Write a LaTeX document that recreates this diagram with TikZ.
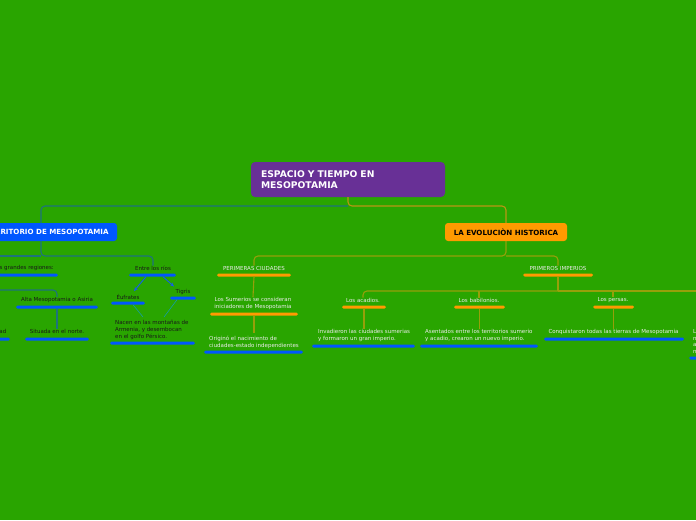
\documentclass[tikz,border=0pt]{standalone}
\usepackage{fontspec}
\setmainfont{DejaVu Sans}
\usetikzlibrary{arrows.meta}
\definecolor{bg}{RGB}{41,165,0}
\definecolor{rootc}{RGB}{104,48,150}
\definecolor{bluen}{RGB}{0,87,255}
\definecolor{orangen}{RGB}{255,154,0}
\definecolor{lineLc}{RGB}{30,115,125}
\definecolor{lineRc}{RGB}{150,160,10}
\definecolor{lineTc}{RGB}{185,150,20}
\definecolor{darktxt}{RGB}{25,25,25}
\definecolor{lighttxt}{RGB}{235,235,235}
\definecolor{arrowc}{RGB}{20,95,235}
\tikzset{
  rootbox/.style={fill=rootc, rounded corners=4pt, minimum width=194pt, minimum height=35pt,
    text width=174pt, align=left, inner sep=0pt, text=white, font=\fontsize{9.2}{11}\selectfont\bfseries},
  mainbox/.style={rounded corners=3pt, minimum height=18pt, inner sep=0pt,
    font=\fontsize{7.1}{8}\selectfont\bfseries},
  ubarB/.style={fill=bluen, rounded corners=1.5pt, minimum height=3pt, inner sep=0pt},
  ubarO/.style={fill=orangen, rounded corners=1.5pt, minimum height=3pt, inner sep=0pt},
  dtxt/.style={text=darktxt, inner sep=0pt, font=\fontsize{5.5}{6.8}\selectfont},
  ltxt/.style={text=lighttxt, inner sep=0pt, font=\fontsize{5.5}{6.8}\selectfont},
  lineL/.style={draw=lineLc, line width=1.1pt, rounded corners=4pt},
  lineR/.style={draw=lineRc, line width=1.1pt, rounded corners=4pt},
  lineT/.style={draw=lineTc, line width=1.1pt, rounded corners=4pt},
  thinL/.style={draw=lineLc!70!cyan, line width=0.6pt},
  arr/.style={draw=arrowc, line width=0.9pt, -{Stealth[length=4pt,width=3.5pt]}}
}
\begin{document}
\begin{tikzpicture}[x=1pt,y=-1pt]
\fill[bg] (0,0) rectangle (696,520);
\useasboundingbox (0,0) rectangle (696,520);

% root and main nodes
\node[rootbox] (root) at (348,179.5) {ESPACIO Y TIEMPO EN\\MESOPOTAMIA};
\node[mainbox, fill=bluen, text=white, minimum width=140pt] (terr) at (47,232) {TERRITORIO DE MESOPOTAMIA};
\node[mainbox, fill=orangen, text=black, minimum width=122pt] (evo) at (506,232) {LA EVOLUCIÒN HISTORICA};
\coordinate (terrTop) at (41,223);
\coordinate (terrBot) at (41,241);

\coordinate (j0) at (348,206);
\draw[lineL] (j0) -| (terrTop);
\draw[lineT] (root.south) -- (j0) -| (evo.north);

% ---------- left branch ----------
\node[dtxt, anchor=east] (reg) at (54,268) {Dos grandes regiones:};
\node[ubarB, minimum width=70pt] (regU) at (23,275) {};
\node[dtxt] (rios) at (153,268) {Entre los ríos};
\node[ubarB, minimum width=47pt] (riosU) at (152.5,275) {};
\coordinate (j1) at (41,256);
\draw[lineL] (terrBot) -- (j1) -| (rios.north);
\draw[lineL] (j1) -- (-20,256);

\node[dtxt] (alta) at (57,300) {Alta Mesopotamia o Asiria};
\node[ubarB, minimum width=82pt] (altaU) at (57,307) {};
\coordinate (j2) at (-20,290);
\draw[lineL] (j2) -| (alta.north);
\node[dtxt] (norte) at (57,331) {Situada en el norte.};
\node[ubarB, minimum width=64pt] (norteU) at (57,339) {};
\draw[lineL] (altaU.south) -- (norte.north);
\node[dtxt, anchor=east] (ad) at (6.5,331) {ad};
\node[ubarB, minimum width=20pt] (adU) at (0,339) {};

\node[dtxt] (eufr) at (128,297) {Éufrates};
\node[ubarB, minimum width=34pt] (eufrU) at (128,303) {};
\node[dtxt] (tigr) at (183,292) {Tigris};
\node[ubarB, minimum width=26pt] (tigrU) at (183,298) {};
\coordinate (eufrTip) at (134,291);
\coordinate (tigrTip) at (174,286.5);
\draw[arr] ([xshift=-6.5pt]riosU.south) -- (eufrTip);
\draw[arr] ([xshift=10.5pt]riosU.south) -- (tigrTip);
\node[dtxt, align=left, anchor=north west] (nacen) at (115,320) {Nacen en las montañas de\\Armenia, y desembocan\\en el golfo Pérsico.};
\node[ubarB, minimum width=85pt] (nacenU) at (152.5,343) {};
\draw[thinL] ([xshift=5pt]eufrU.south) -- (143,317);
\draw[thinL] ([xshift=-6pt]tigrU.south) -- (164,317);

% ---------- right branch ----------
\node[ltxt] (ciud) at (254,268) {PERIMERAS CIUDADES};
\node[ubarO, minimum width=74pt] (ciudU) at (254,275) {};
\node[ltxt] (imp) at (558,268) {PRIMEROS IMPERIOS};
\node[ubarO, minimum width=70pt] (impU) at (558,275) {};
\coordinate (j3) at (506,256);
\draw[lineR] (evo.south) -- (j3) -| (ciud.north);
\draw[lineR] (j3) -| (imp.north);

\node[ltxt, align=center] (sum) at (253,303.5) {Los Sumerios se consideran\\iniciadores de Mesopotamia};
\node[ubarO, minimum width=88pt] (sumU) at (254,314) {};
\draw[lineR] (ciudU.south) -- (sum.north);
\node[ltxt, align=left, anchor=north west] (orig) at (209,336) {Originó el nacimiento de\\ciudades-estado independientes};
\node[ubarB, minimum width=99pt] (origU) at (253.5,352) {};
\draw[lineR] (sumU.south) -- (254,333);

\coordinate (j4) at (558,291);
\node[ltxt] (acad) at (363,300) {Los acadios.};
\node[ubarO, minimum width=44pt] (acadU) at (364,307) {};
\node[ltxt] (babi) at (479,300) {Los babilonios.};
\node[ubarO, minimum width=51pt] (babiU) at (479.5,307) {};
\node[ltxt] (pers) at (613,300) {Los persas.};
\node[ubarO, minimum width=41pt] (persU) at (613.5,307) {};
\draw[lineR] (impU.south) -- (j4);
\draw[lineR] (j4) -| (acad.north);
\draw[lineR] (j4) -- (720,291);
\draw[lineR] (479,291) -- (babi.north);
\draw[lineR] (613,291) -- (pers.north);

\node[ltxt, align=left, anchor=north west] (inv) at (318,329) {Invadieron las ciudades sumerias\\y formaron un gran imperio.};
\node[ubarB, minimum width=103pt] (invU) at (363.5,346) {};
\draw[lineR] (acadU.south) -- (inv.north -| acadU.south);
\node[ltxt, align=left, anchor=north west] (asen) at (425,329) {Asentados entre los territorios sumerio\\y acadio, crearon un nuevo imperio.};
\node[ubarB, minimum width=118pt] (asenU) at (479,346) {};
\draw[lineR] (babiU.south) -- (asen.north -| babiU.south);
\node[ltxt] (conq) at (613.5,332) {Conquistaron todas las tierras de Mesopotamia};
\node[ubarB, minimum width=140pt] (conqU) at (614,339) {};
\draw[lineR] (persU.south) -- (conq.north -| persU.south);

\node[ltxt, align=left, anchor=north west] (edge) at (693,329) {L\\n\\a\\n};
\node[ubarB, minimum width=20pt] (edgeU) at (699,358) {};
\end{tikzpicture}
\end{document}
